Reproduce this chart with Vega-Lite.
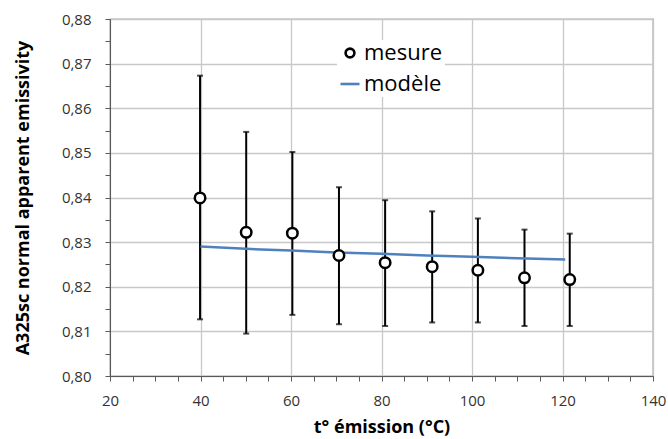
{
  "$schema": "https://vega.github.io/schema/vega-lite/v6.json",
  "width": 543,
  "height": 357,
  "autosize": {"type": "none"},
  "padding": {"left": 110, "top": 19, "right": 15, "bottom": 63},
  "config": {
    "font": "Open Sans",
    "view": {"stroke": "#595959", "strokeWidth": 1.2},
    "axis": {
      "domainColor": "#595959",
      "tickColor": "#595959",
      "tickSize": 5,
      "labelFont": "Open Sans",
      "labelFontSize": 15,
      "labelColor": "#333333",
      "titleFont": "Open Sans",
      "titleFontSize": 18,
      "titleFontWeight": "bold",
      "titleColor": "#000000",
      "gridColor": "#c8c8c8",
      "gridWidth": 1.3,
      "labelOverlap": false,
      "labelFlush": false
    },
    "legend": {
      "labelFont": "Open Sans",
      "labelFontSize": 22,
      "labelColor": "#000000"
    }
  },
  "data": {
    "values": [
      {"series": "mesure", "t": 39.9, "v": 0.8399, "lo": 0.8127, "hi": 0.8673},
      {"series": "mesure", "t": 50.1, "v": 0.8322, "lo": 0.8095, "hi": 0.8547},
      {"series": "mesure", "t": 60.3, "v": 0.8320, "lo": 0.8137, "hi": 0.8502},
      {"series": "mesure", "t": 70.6, "v": 0.8270, "lo": 0.8116, "hi": 0.8423},
      {"series": "mesure", "t": 80.8, "v": 0.8254, "lo": 0.8112, "hi": 0.8394},
      {"series": "mesure", "t": 91.2, "v": 0.8245, "lo": 0.8120, "hi": 0.8369},
      {"series": "mesure", "t": 101.3, "v": 0.8237, "lo": 0.8120, "hi": 0.8353},
      {"series": "mesure", "t": 111.6, "v": 0.8220, "lo": 0.8112, "hi": 0.8328},
      {"series": "mesure", "t": 121.6, "v": 0.8216, "lo": 0.8112, "hi": 0.8319},
      {"series": "modèle", "t": 40, "v": 0.8290},
      {"series": "modèle", "t": 50, "v": 0.8285},
      {"series": "modèle", "t": 60, "v": 0.8281},
      {"series": "modèle", "t": 70, "v": 0.8277},
      {"series": "modèle", "t": 80, "v": 0.8274},
      {"series": "modèle", "t": 90, "v": 0.8270},
      {"series": "modèle", "t": 100, "v": 0.8267},
      {"series": "modèle", "t": 110, "v": 0.8264},
      {"series": "modèle", "t": 120.6, "v": 0.8261}
    ]
  },
  "encoding": {
    "x": {
      "field": "t",
      "type": "quantitative",
      "title": "t° émission (°C)",
      "scale": {"domain": [20, 140], "nice": false, "zero": false},
      "axis": {
        "orient": "bottom",
        "values": [20, 25, 30, 35, 40, 45, 50, 55, 60, 65, 70, 75, 80, 85, 90, 95, 100, 105, 110, 115, 120, 125, 130, 135, 140],
        "labelExpr": "datum.value % 20 == 0 ? datum.label : ''",
        "gridOpacity": {"condition": {"test": "datum.value % 20 == 0", "value": 1}, "value": 0},
        "labelPadding": 12,
        "titlePadding": 10
      }
    }
  },
  "layer": [
    {
      "transform": [{"filter": "datum.series === 'mesure'"}],
      "mark": {"type": "rule", "color": "black", "strokeWidth": 2},
      "encoding": {
        "y": {
          "field": "lo",
          "type": "quantitative",
          "title": "A325sc normal apparent emissivity",
          "scale": {"domain": [0.8, 0.88], "nice": false, "zero": false},
          "axis": {
            "orient": "left",
            "values": [0.8, 0.805, 0.81, 0.815, 0.82, 0.825, 0.83, 0.835, 0.84, 0.845, 0.85, 0.855, 0.86, 0.865, 0.87, 0.875, 0.88],
            "labelExpr": "round(datum.value * 1000) % 10 == 0 ? replace(format(datum.value, '.2f'), '.', ',') : ''",
            "gridOpacity": {"condition": {"test": "round(datum.value * 1000) % 10 == 0", "value": 1}, "value": 0},
            "labelPadding": 14,
            "titlePadding": 29
          }
        },
        "y2": {"field": "hi"}
      }
    },
    {
      "transform": [{"filter": "datum.series === 'mesure'"}],
      "mark": {"type": "tick", "orient": "horizontal", "color": "black", "size": 6, "thickness": 2},
      "encoding": {
        "y": {
          "field": "lo",
          "type": "quantitative",
          "title": "A325sc normal apparent emissivity",
          "scale": {"domain": [0.8, 0.88], "nice": false, "zero": false},
          "axis": {
            "orient": "left",
            "values": [0.8, 0.805, 0.81, 0.815, 0.82, 0.825, 0.83, 0.835, 0.84, 0.845, 0.85, 0.855, 0.86, 0.865, 0.87, 0.875, 0.88],
            "labelExpr": "round(datum.value * 1000) % 10 == 0 ? replace(format(datum.value, '.2f'), '.', ',') : ''",
            "gridOpacity": {"condition": {"test": "round(datum.value * 1000) % 10 == 0", "value": 1}, "value": 0},
            "labelPadding": 14,
            "titlePadding": 29
          }
        }
      }
    },
    {
      "transform": [{"filter": "datum.series === 'mesure'"}],
      "mark": {"type": "tick", "orient": "horizontal", "color": "black", "size": 6, "thickness": 2},
      "encoding": {
        "y": {
          "field": "hi",
          "type": "quantitative",
          "title": "A325sc normal apparent emissivity",
          "scale": {"domain": [0.8, 0.88], "nice": false, "zero": false},
          "axis": {
            "orient": "left",
            "values": [0.8, 0.805, 0.81, 0.815, 0.82, 0.825, 0.83, 0.835, 0.84, 0.845, 0.85, 0.855, 0.86, 0.865, 0.87, 0.875, 0.88],
            "labelExpr": "round(datum.value * 1000) % 10 == 0 ? replace(format(datum.value, '.2f'), '.', ',') : ''",
            "gridOpacity": {"condition": {"test": "round(datum.value * 1000) % 10 == 0", "value": 1}, "value": 0},
            "labelPadding": 14,
            "titlePadding": 29
          }
        }
      }
    },
    {
      "transform": [{"filter": "datum.series === 'modèle'"}],
      "mark": {"type": "line", "strokeWidth": 2.5},
      "encoding": {
        "y": {
          "field": "v",
          "type": "quantitative",
          "title": "A325sc normal apparent emissivity",
          "scale": {"domain": [0.8, 0.88], "nice": false, "zero": false},
          "axis": {
            "orient": "left",
            "values": [0.8, 0.805, 0.81, 0.815, 0.82, 0.825, 0.83, 0.835, 0.84, 0.845, 0.85, 0.855, 0.86, 0.865, 0.87, 0.875, 0.88],
            "labelExpr": "round(datum.value * 1000) % 10 == 0 ? replace(format(datum.value, '.2f'), '.', ',') : ''",
            "gridOpacity": {"condition": {"test": "round(datum.value * 1000) % 10 == 0", "value": 1}, "value": 0},
            "labelPadding": 14,
            "titlePadding": 29
          }
        },
        "color": {
          "field": "series",
          "type": "nominal",
          "scale": {"domain": ["mesure", "modèle"], "range": ["black", "#4f81bd"]},
          "legend": {
            "title": null,
            "orient": "none",
            "legendX": 227,
            "legendY": 21,
            "fillColor": "white",
            "padding": 2,
            "rowPadding": 9,
            "labelOffset": 3,
            "symbolStrokeWidth": 2.6,
            "encode": {"symbols": {"update": {"size": {"signal": "datum.value === 'modèle' ? 361 : 78"}}}}
          }
        }
      }
    },
    {
      "transform": [{"filter": "datum.series === 'mesure'"}],
      "mark": {"type": "point", "filled": false, "fill": "white", "strokeWidth": 2.5, "size": 110, "opacity": 1},
      "encoding": {
        "y": {
          "field": "v",
          "type": "quantitative",
          "title": "A325sc normal apparent emissivity",
          "scale": {"domain": [0.8, 0.88], "nice": false, "zero": false},
          "axis": {
            "orient": "left",
            "values": [0.8, 0.805, 0.81, 0.815, 0.82, 0.825, 0.83, 0.835, 0.84, 0.845, 0.85, 0.855, 0.86, 0.865, 0.87, 0.875, 0.88],
            "labelExpr": "round(datum.value * 1000) % 10 == 0 ? replace(format(datum.value, '.2f'), '.', ',') : ''",
            "gridOpacity": {"condition": {"test": "round(datum.value * 1000) % 10 == 0", "value": 1}, "value": 0},
            "labelPadding": 14,
            "titlePadding": 29
          }
        },
        "color": {
          "field": "series",
          "type": "nominal",
          "scale": {"domain": ["mesure", "modèle"], "range": ["black", "#4f81bd"]},
          "legend": {
            "title": null,
            "orient": "none",
            "legendX": 227,
            "legendY": 21,
            "fillColor": "white",
            "padding": 2,
            "rowPadding": 9,
            "labelOffset": 3,
            "symbolStrokeWidth": 2.6,
            "encode": {"symbols": {"update": {"size": {"signal": "datum.value === 'modèle' ? 361 : 78"}}}}
          }
        },
        "shape": {
          "field": "series",
          "type": "nominal",
          "scale": {"domain": ["mesure", "modèle"], "range": ["circle", "stroke"]},
          "legend": {
            "title": null,
            "orient": "none",
            "legendX": 227,
            "legendY": 21,
            "fillColor": "white",
            "padding": 2,
            "rowPadding": 9,
            "labelOffset": 3,
            "symbolStrokeWidth": 2.6,
            "encode": {"symbols": {"update": {"size": {"signal": "datum.value === 'modèle' ? 361 : 78"}}}}
          }
        }
      }
    }
  ]
}
